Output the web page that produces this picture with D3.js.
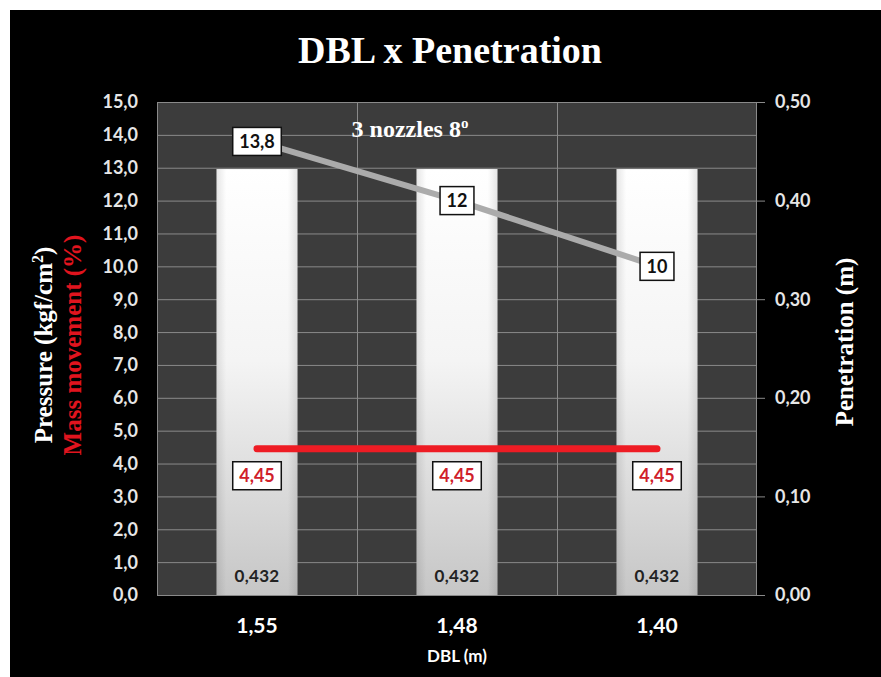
<!DOCTYPE html>
<html>
<head>
<meta charset="utf-8">
<script src="https://cdn.jsdelivr.net/npm/d3@7/dist/d3.min.js"></script>
<style>
  html, body { margin: 0; padding: 0; background: #ffffff; }
  svg { display: block; }
</style>
</head>
<body>
<svg id="chart" width="881" height="677"></svg>
<script>
// DBL categories and the three measured series
const categories = ["1,55", "1,48", "1,40"];
const pressure = [13.8, 12, 10];            // kgf/cm² (left axis)
const massMovement = [4.45, 4.45, 4.45];    // % (left axis)
const penetration = [0.432, 0.432, 0.432];  // m (right axis)
const leftTicks = [0, 1, 2, 3, 4, 5, 6, 7, 8, 9, 10, 11, 12, 13, 14, 15];
const rightTicks = [0, 0.1, 0.2, 0.3, 0.4, 0.5];

const locale = d3.formatLocale({ decimal: ",", thousands: ".", grouping: [3], currency: ["", ""] });
const fmt1 = locale.format(".1f");
const fmt2 = locale.format(".2f");
const fmtAuto = v => locale.format(",")(v);

const svg = d3.select("#chart");
const W = 881, H = 677;
const SANS = "Lato, 'Open Sans', sans-serif";
const SERIF = "'Liberation Serif', 'DejaVu Serif', serif";

// black panel with a thin white margin on the top and left
svg.append("rect").attr("x", 0).attr("y", 0).attr("width", W).attr("height", H).attr("fill", "#ffffff");
svg.append("rect").attr("x", 10).attr("y", 10).attr("width", W - 10).attr("height", H - 10).attr("fill", "#000000");

const plot = { left: 157, right: 757, top: 102, bottom: 595 };

const x = d3.scaleBand().domain(categories).range([plot.left, plot.right]).paddingInner(0).paddingOuter(0);
const yL = d3.scaleLinear().domain([0, 15]).range([plot.bottom, plot.top]);
const yR = d3.scaleLinear().domain([0, 0.5]).range([plot.bottom, plot.top]);

const defs = svg.append("defs");
const gV = defs.append("linearGradient").attr("id", "barV").attr("x1", 0).attr("y1", 0).attr("x2", 0).attr("y2", 1);
gV.append("stop").attr("offset", "0%").attr("stop-color", "#ffffff");
gV.append("stop").attr("offset", "45%").attr("stop-color", "#f4f4f4");
gV.append("stop").attr("offset", "100%").attr("stop-color", "#c6c6c6");
const gH = defs.append("linearGradient").attr("id", "barH").attr("x1", 0).attr("y1", 0).attr("x2", 1).attr("y2", 0);
gH.append("stop").attr("offset", "0%").attr("stop-color", "#000").attr("stop-opacity", 0.10);
gH.append("stop").attr("offset", "12%").attr("stop-color", "#000").attr("stop-opacity", 0);
gH.append("stop").attr("offset", "88%").attr("stop-color", "#000").attr("stop-opacity", 0);
gH.append("stop").attr("offset", "100%").attr("stop-color", "#000").attr("stop-opacity", 0.10);

// plot background
svg.append("rect")
  .attr("x", plot.left).attr("y", plot.top)
  .attr("width", plot.right - plot.left).attr("height", plot.bottom - plot.top)
  .attr("fill", "#3c3c3c");

// horizontal grid
svg.append("g").selectAll("line").data(leftTicks).join("line")
  .attr("x1", plot.left).attr("x2", plot.right)
  .attr("y1", d => yL(d) + 0.5).attr("y2", d => yL(d) + 0.5)
  .attr("stroke", "#8a8a8a").attr("stroke-width", 1);

// vertical grid between categories
svg.append("g").selectAll("line").data(categories.slice(1)).join("line")
  .attr("x1", d => x(d) + 0.5).attr("x2", d => x(d) + 0.5)
  .attr("y1", plot.top).attr("y2", plot.bottom)
  .attr("stroke", "#8a8a8a").attr("stroke-width", 1);

// plot frame
svg.append("rect")
  .attr("x", plot.left + 0.5).attr("y", plot.top + 0.5)
  .attr("width", plot.right - plot.left - 1).attr("height", plot.bottom - plot.top)
  .attr("fill", "none").attr("stroke", "#8a8a8a");

// penetration bars (right axis)
const barW = x.bandwidth() * 0.405;
const bars = svg.append("g");
bars.selectAll("rect.v").data(penetration).join("rect")
  .attr("class", "v")
  .attr("x", (d, i) => x(categories[i]) + (x.bandwidth() - barW) / 2)
  .attr("y", d => yR(d))
  .attr("width", barW)
  .attr("height", d => yR(0) - yR(d))
  .attr("fill", "url(#barV)");
bars.selectAll("rect.h").data(penetration).join("rect")
  .attr("class", "h")
  .attr("x", (d, i) => x(categories[i]) + (x.bandwidth() - barW) / 2)
  .attr("y", d => yR(d))
  .attr("width", barW)
  .attr("height", d => yR(0) - yR(d))
  .attr("fill", "url(#barH)");

// penetration value labels at bar base
svg.append("g").selectAll("text").data(penetration).join("text")
  .attr("x", (d, i) => x(categories[i]) + x.bandwidth() / 2)
  .attr("y", 582)
  .attr("text-anchor", "middle")
  .attr("font-family", SANS)
  .attr("font-weight", "bold").attr("font-size", 17)
  .attr("letter-spacing", 0.3)
  .attr("fill", "#222222")
  .text(d => locale.format(".3f")(d));

const cx = i => x(categories[i]) + x.bandwidth() / 2;

// pressure line
svg.append("path")
  .datum(pressure)
  .attr("d", d3.line().x((d, i) => cx(i)).y(d => yL(d)))
  .attr("fill", "none").attr("stroke", "#ababab").attr("stroke-width", 6);

// mass movement line
svg.append("path")
  .datum(massMovement)
  .attr("d", d3.line().x((d, i) => cx(i)).y(d => yL(d)))
  .attr("fill", "none").attr("stroke", "#ee1c24").attr("stroke-width", 7)
  .attr("stroke-linecap", "round");

// boxed data labels
function boxedLabels(data, dy, color, formatter) {
  const g = svg.append("g");
  data.forEach((v, i) => {
    const lg = g.append("g").attr("transform", `translate(${cx(i)},${yL(v) + dy})`);
    const t = lg.append("text")
      .attr("text-anchor", "middle").attr("dy", "0.36em")
      .attr("font-family", SANS)
      .attr("font-weight", "bold").attr("font-size", 18)
      .attr("fill", color)
      .text(formatter(v));
    const bb = t.node().getBBox();
    const w = bb.width + 13, h = 28;
    lg.insert("rect", "text")
      .attr("x", -w / 2).attr("y", -h / 2).attr("width", w).attr("height", h)
      .attr("fill", "#ffffff").attr("stroke", "#111111").attr("stroke-width", 1.5);
  });
}
boxedLabels(pressure, 0, "#111111", fmtAuto);
boxedLabels(massMovement, 27, "#d0202a", v => locale.format(".2f")(v));

// left axis tick labels
svg.append("g").selectAll("text").data(leftTicks).join("text")
  .attr("x", 138).attr("y", d => yL(d)).attr("dy", "0.36em")
  .attr("text-anchor", "end")
  .attr("font-family", SANS)
  .attr("font-weight", "bold").attr("font-size", 18)
  .attr("fill", "#e6e6e6")
  .text(d => fmt1(d));

// right axis ticks and labels
svg.append("g").selectAll("line").data(rightTicks).join("line")
  .attr("x1", plot.right).attr("x2", plot.right + 8)
  .attr("y1", d => yR(d) + 0.5).attr("y2", d => yR(d) + 0.5)
  .attr("stroke", "#8a8a8a");
svg.append("g").selectAll("text").data(rightTicks).join("text")
  .attr("x", 775).attr("y", d => yR(d)).attr("dy", "0.36em")
  .attr("text-anchor", "start")
  .attr("font-family", SANS)
  .attr("font-weight", "bold").attr("font-size", 18)
  .attr("fill", "#e6e6e6")
  .text(d => fmt2(d));

// category labels
svg.append("g").selectAll("text").data(categories).join("text")
  .attr("x", (d, i) => cx(i)).attr("y", 633)
  .attr("text-anchor", "middle")
  .attr("font-family", SANS)
  .attr("font-weight", "bold").attr("font-size", 21)
  .attr("fill", "#ffffff")
  .text(d => d);

// x axis title
svg.append("text")
  .attr("x", 457).attr("y", 662)
  .attr("text-anchor", "middle")
  .attr("font-family", SANS)
  .attr("font-weight", "bold").attr("font-size", 17)
  .attr("fill", "#ffffff")
  .text("DBL (m)");

// chart title
svg.append("text")
  .attr("x", 450).attr("y", 63)
  .attr("text-anchor", "middle")
  .attr("font-family", SERIF)
  .attr("font-weight", "bold").attr("font-size", 38)
  .attr("fill", "#ffffff")
  .text("DBL x Penetration");

// annotation
const note = svg.append("text")
  .attr("x", 410).attr("y", 137)
  .attr("text-anchor", "middle")
  .attr("font-family", SERIF)
  .attr("font-weight", "bold").attr("font-size", 24)
  .attr("fill", "#ffffff");
note.append("tspan").text("3 nozzles 8");
note.append("tspan").attr("font-size", 15).attr("dy", -9).text("o");

// left axis titles
const lt1 = svg.append("text")
  .attr("transform", "translate(52,345) rotate(-90)")
  .attr("text-anchor", "middle")
  .attr("font-family", SERIF)
  .attr("font-weight", "bold").attr("font-size", 25)
  .attr("fill", "#ffffff");
lt1.append("tspan").text("Pressure (kgf/cm");
lt1.append("tspan").attr("font-size", 16).attr("dy", -9).text("2");
lt1.append("tspan").attr("dy", 9).text(")");

svg.append("text")
  .attr("transform", "translate(81,345) rotate(-90)")
  .attr("text-anchor", "middle")
  .attr("font-family", SERIF)
  .attr("font-weight", "bold").attr("font-size", 25)
  .attr("fill", "#e0141e")
  .text("Mass movement (%)");

// right axis title
svg.append("text")
  .attr("transform", "translate(853,342) rotate(-90)")
  .attr("text-anchor", "middle")
  .attr("font-family", SERIF)
  .attr("font-weight", "bold").attr("font-size", 25)
  .attr("fill", "#ffffff")
  .text("Penetration  (m)");
</script>
</body>
</html>
